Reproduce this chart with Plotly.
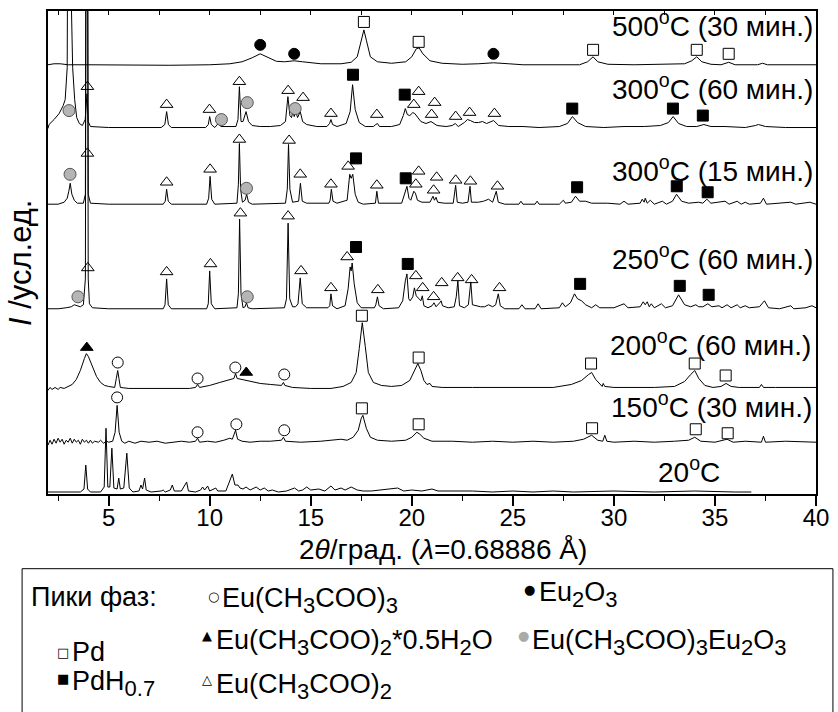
import plotly.graph_objects as go

# ---------------- data (2θ in degrees, intensity in arbitrary units above each pattern's baseline) -------------
P_500 = [(2.0,0),(2.3,1),(2.6,1),(3.0,0),(4.0,0),(6.0,-0.5),(8.0,-0.5),(10.0,0),(11.0,1),(11.6,3),(12.1,7),
         (12.5,11),(12.9,7),(13.3,3.5),(13.7,3),(14.18,4),(14.6,3),(15.5,1),(16.5,1),(17.0,2.5),(17.3,8),
         (17.5,26),(17.63,35),(17.76,24),(17.95,8),(18.3,3),(19.0,1.5),(19.7,3),(20.0,8),(20.22,16),(20.36,17),
         (20.55,11),(20.9,4),(21.5,1.5),(22.5,0.5),(23.3,1),(24.04,2),(24.8,1),(25.5,0),(28.3,0),(28.7,3),
         (28.97,8),(29.2,3),(29.7,0.5),(31.0,0),(33.5,1),(33.85,4),(34.1,8),(34.35,3),(34.8,0.5),(35.3,0),
         (35.68,2.5),(36.0,0),(37.1,0),(37.36,1.5),(37.6,0),(40.0,0)]

P_300_60 = [(2.0,-1),(2.05,3),(2.3,8),(2.55,14),(2.75,22),(2.85,28),(2.95,60),(3.0,120),(3.08,800),(3.16,120),
            (3.22,60),(3.32,28),(3.42,10),(3.55,4),(3.7,2),(3.84,8),(3.93,34),(3.99,6),(4.1,1),(5.0,0),(7.6,0),
            (7.78,3),(7.87,16),(7.96,3),(8.1,0),(9.8,0),(9.93,3),(10.0,11),(10.08,3),(10.25,0),(10.42,4),(10.55,1),
            (11.3,1),(11.4,8),(11.47,41),(11.55,6),(11.65,6),(11.8,16),(11.92,6),(12.1,2),(12.5,1),(13.0,1),
            (13.5,2),(13.75,6),(13.87,31),(13.97,12),(14.05,10),(14.12,17),(14.18,11),(14.26,16),(14.35,10),
            (14.48,16),(14.6,6),(14.8,3),(15.3,1),(15.8,1),(15.93,4),(16.0,8),(16.08,3),(16.3,1),(16.75,4),
            (16.95,16),(17.07,43),(17.2,18),(17.4,5),(17.7,1),(18.1,1),(18.22,3),(18.3,4),(18.4,1),(19.0,1),
            (19.4,3),(19.58,12),(19.68,19),(19.78,13),(19.9,12),(20.05,15),(20.15,14),(20.28,11),(20.45,6),
            (20.7,4),(20.95,6),(21.1,4),(21.25,2),(21.7,1),(22.0,2),(22.15,4),(22.3,1),(22.6,5),(22.75,8),
            (22.9,7),(23.1,5),(23.3,5),(23.5,6),(23.7,4),(24.05,7),(24.3,2),(24.8,1),(25.5,1),(26.3,0),(27.3,1),
            (27.7,4),(27.95,11),(28.2,5),(28.6,1),(29.5,0),(30.5,1),(31.5,1),(32.3,2),(32.7,5),(32.93,11),
            (33.2,4),(33.6,1),(34.1,1),(34.45,3),(34.8,1),(35.5,1),(36.5,0),(37.0,2),(37.15,3),(37.5,1),
            (38.5,0),(40.0,0)]

P_300_15 = [(2.0,0),(2.5,0),(2.8,2),(2.95,6),(3.03,13),(3.1,21),(3.18,10),(3.3,4),(3.45,1),(3.75,1),(3.85,10),
            (3.92,700),(3.99,10),(4.1,1),(5.0,0),(7.7,0),(7.8,3),(7.87,15),(7.95,3),(8.1,0),(9.85,0),(9.95,6),
            (10.02,28),(10.1,5),(10.25,0),(11.35,1),(11.42,20),(11.47,61),(11.53,15),(11.62,2),(11.75,4),
            (11.83,10),(11.92,2),(12.1,0),(13.75,1),(13.84,15),(13.9,60),(13.97,15),(14.1,2),(14.4,3),
            (14.49,21),(14.58,3),(14.8,1),(15.9,1),(15.96,4),(16.02,15),(16.1,3),(16.3,1),(16.8,4),(16.93,30),
            (17.0,26),(17.08,30),(17.2,10),(17.35,2),(17.6,0),(18.2,1),(18.27,13),(18.35,1),(19.5,1),
            (19.65,10),(19.76,18),(19.86,6),(19.95,4),(20.1,13),(20.18,11),(20.28,4),(20.5,2),(20.9,2),
            (21.05,8),(21.12,4),(21.2,7),(21.28,2),(21.6,1),(22.05,1),(22.17,19),(22.25,2),(22.5,1),(22.78,2),
            (22.88,18),(22.95,2),(23.3,2),(23.55,3),(23.8,5),(24.0,2),(24.18,13),(24.28,2),(24.6,0),(25.3,0),
            (25.4,3),(25.5,0),(26.1,0),(26.2,3),(26.3,0),(27.3,0),(27.5,4),(27.6,1),(27.9,2),(28.1,8),(28.3,3),
            (28.6,3),(28.9,1),(29.7,1),(30.3,0),(30.5,3),(30.7,0),(31.3,1),(31.4,5),(31.5,2),(31.55,6),
            (31.65,1),(31.8,4),(32.0,0),(32.4,3),(32.6,0),(32.9,3),(33.1,10),(33.35,3),(33.7,1),(34.2,2),
            (34.4,1),(34.6,5),(34.8,1),(35.5,3),(35.7,0),(36.1,3),(36.3,0),(36.5,2),(36.7,0),(37.25,1),
            (37.4,6),(37.55,0),(38.75,2),(39.0,0),(39.7,2),(40.0,0)]

P_250_60 = [(2.0,0),(2.5,0),(2.9,1),(3.15,2),(3.3,4),(3.45,3),(3.6,2),(3.75,4),(3.85,30),(3.92,800),(3.99,30),
            (4.05,5),(4.2,1),(5.0,0),(7.7,0),(7.79,4),(7.87,30),(7.95,4),(8.1,0),(9.85,0),(9.93,5),(10.0,38),
            (10.08,5),(10.25,0),(11.35,1),(11.42,15),(11.48,90),(11.55,15),(11.65,1),(11.75,2),(11.82,6),
            (11.9,1),(12.1,0),(13.7,1),(13.8,10),(13.88,86),(13.96,10),(14.1,2),(14.25,2),(14.37,5),(14.48,31),
            (14.58,5),(14.8,1),(15.85,1),(15.94,3),(16.0,15),(16.08,3),(16.3,0),(16.7,3),(16.85,20),(16.95,42),
            (17.0,38),(17.05,46),(17.15,25),(17.3,6),(17.5,1),(18.15,1),(18.22,4),(18.3,12),(18.38,3),(18.6,0),
            (19.35,1),(19.55,8),(19.68,28),(19.76,35),(19.85,10),(19.92,8),(20.05,12),(20.13,21),(20.22,13),
            (20.35,10),(20.45,8),(20.52,13),(20.6,3),(20.8,1),(21.0,3),(21.1,6),(21.2,2),(21.38,6),(21.45,8),
            (21.52,3),(21.8,1),(22.1,2),(22.2,12),(22.28,28),(22.36,3),(22.6,1),(22.8,4),(22.92,27),(23.0,4),
            (23.4,2),(23.6,2),(23.8,4),(24.0,2),(24.15,4),(24.28,15),(24.38,3),(24.6,0),(25.3,0),(25.45,4),
            (25.6,0),(26.1,0),(26.25,5),(26.4,0),(27.3,1),(27.45,6),(27.6,2),(27.85,6),(28.05,15),(28.2,10),
            (28.4,8),(28.6,4),(28.9,1),(29.1,4),(29.3,1),(29.8,1),(30.0,1),(30.5,5),(30.7,1),(31.3,2),(31.45,7),
            (31.55,4),(31.65,7),(31.75,2),(31.85,5),(32.0,1),(32.35,5),(32.55,1),(32.9,3),(33.2,14),(33.5,4),
            (33.8,2),(34.05,4),(34.2,2),(34.4,2),(34.65,5),(34.85,2),(35.2,3),(35.35,1),(35.6,4),(35.8,1),
            (36.1,4),(36.25,1),(36.5,3),(36.7,1),(37.2,2),(37.45,8),(37.65,1),(38.2,0),(38.75,3),(38.9,0),
            (39.5,1),(39.8,3),(40.0,1)]

P_200_60 = [(2.0,-2),(2.1,1),(2.2,-1),(2.35,1),(2.5,-1),(2.6,1),(2.8,0),(3.0,2),(3.2,4),(3.4,9),(3.6,18),
            (3.8,30),(3.9,35),(4.0,32),(4.2,22),(4.4,12),(4.6,6),(4.8,3),(5.0,2),(5.3,1),(5.38,10),(5.45,18),
            (5.51,10),(5.58,1),(6.0,0),(7.0,0),(8.0,0),(9.0,0),(9.3,1),(9.4,4),(9.5,1),(10.0,3),(10.5,6),
            (11.0,9),(11.2,10),(11.28,15),(11.36,10),(11.6,9),(12.0,7),(12.5,5),(13.0,4),(13.55,3),(13.65,6),
            (13.72,3),(14.1,1),(15.0,0),(16.0,0),(16.6,2),(17.0,6),(17.25,16),(17.4,40),(17.55,66),(17.7,42),
            (17.85,16),(18.1,6),(18.5,3),(19.0,2),(19.5,3),(19.9,8),(20.1,16),(20.3,25),(20.45,18),(20.6,8),
            (20.75,4),(20.9,5),(21.0,2),(21.5,1),(23.0,1),(25.0,1),(27.0,1),(27.9,4),(28.4,8),(28.75,14),
            (28.9,16),(29.1,9),(29.3,4),(29.42,2),(29.47,5),(29.55,2),(30.0,1),(32.0,1),(33.0,2),(33.5,7),
            (33.8,14),(34.0,18),(34.2,10),(34.5,3),(34.9,1),(35.3,2),(35.55,5),(35.8,2),(36.2,1),(37.2,1),
            (37.3,4),(37.4,1),(38.0,1),(40.0,1)]

P_150_30 = [(2.0,-3),(2.1,2),(2.2,-2),(2.3,3),(2.4,-1),(2.5,4),(2.6,0),(2.7,3),(2.8,-2),(2.9,2),(3.0,0),
            (3.1,4),(3.2,-1),(3.3,3),(3.4,0),(3.5,2),(3.6,-2),(3.7,3),(3.8,0),(3.9,2),(4.0,-1),(4.1,2),(4.2,-1),
            (4.3,1),(4.5,0),(4.6,2),(4.75,-1),(4.9,1),(5.0,0),(5.2,1),(5.32,10),(5.42,37),(5.52,10),(5.65,1),
            (5.8,-1),(6.0,1),(6.3,-1),(6.6,1),(7.0,0),(7.4,1),(7.8,-1),(8.2,0),(8.6,1),(9.0,0),(9.3,1),(9.4,4),
            (9.5,0),(9.9,1),(10.3,0),(10.7,2),(11.0,4),(11.12,3),(11.28,12),(11.38,3),(11.6,1),(12.0,0),
            (12.5,1),(13.0,1),(13.55,2),(13.65,5),(13.75,1),(14.5,0),(15.5,1),(16.5,3),(16.8,2),(17.1,5),
            (17.35,12),(17.5,24),(17.58,27),(17.75,14),(17.95,5),(18.3,2),(19.0,1),(19.7,2),(20.0,5),(20.25,10),
            (20.4,8),(20.6,4),(21.0,1),(22.0,1),(23.0,0),(24.0,1),(25.0,0),(26.0,1),(27.0,0),(28.0,1),(28.5,3),
            (28.9,7),(29.2,2),(29.45,1),(29.55,7),(29.65,1),(30.0,0),(31.0,1),(32.0,0),(33.0,1),(33.7,2),
            (34.0,5),(34.3,1),(35.0,0),(35.6,3),(35.9,0),(36.5,1),(37.3,0),(37.4,6),(37.5,0),(38.5,1),(40.0,0)]

P_20 = [(2.0,0),(3.6,0),(3.78,3),(3.87,27),(3.96,3),(4.1,0),(4.6,0),(4.78,5),(4.87,64),(4.96,5),(5.06,5),
        (5.16,44),(5.26,4),(5.42,3),(5.5,14),(5.58,3),(5.75,4),(5.9,39),(6.02,4),(6.2,0),(6.5,1),(6.6,7),
        (6.68,3),(6.78,14),(6.86,2),(7.1,0),(7.6,1),(7.7,2),(7.8,0),(8.05,2),(8.15,7),(8.25,1),(8.6,1),
        (8.86,10),(8.95,1),(9.3,0),(9.55,2),(9.65,5),(9.75,2),(9.9,6),(10.0,1),(10.3,4),(10.4,1),(10.8,1),
        (11.12,18),(11.25,7),(11.4,7),(11.5,4),(11.65,3),(11.8,5),(12.0,2),(12.3,5),(12.5,2),(12.7,4),
        (12.9,1),(13.1,2),(13.4,0),(13.8,1),(14.2,4),(14.4,1),(14.6,2),(14.8,5),(15.0,2),(15.4,3),(15.7,1),
        (16.0,6),(16.2,2),(16.5,4),(16.7,2),(17.0,5),(17.3,2),(17.6,1),(18.0,1),(18.5,2),(19.0,3),(19.3,4),
        (19.6,1),(20.0,2),(20.5,1),(21.0,3),(21.3,1),(22.0,1),(23.0,1),(24.0,0),(25.0,1),(26.0,0),(27.0,1),
        (28.0,0),(30.0,1),(32.0,0),(34.0,1),(36.0,0),(36.8,0)]

PATTERNS = [P_500, P_300_60, P_300_15, P_250_60, P_200_60, P_150_30, P_20]
OFFSETS = [431, 368, 291, 186, 106, 52, 2]
LABELS = ["500<sup>o</sup>C (30 мин.)", "300<sup>o</sup>C (60 мин.)", "300<sup>o</sup>C (15 мин.)",
          "250<sup>o</sup>C (60 мин.)", "200<sup>o</sup>C (60 мин.)", "150<sup>o</sup>C (30 мин.)",
          "20<sup>o</sup>C"]

# phase peak markers: (2θ, height on the stacked scale)
PD = [(17.63,474),(20.34,454),(28.97,446),(34.10,446),(35.68,442),
      (17.53,179),(20.34,137),(28.87,131),(34.0,131),(35.53,119),
      (17.53,86),(20.34,70),(28.92,66),(34.05,65),(35.63,61)]
PDH = [(17.09,421),(19.65,401),(27.94,387),(32.92,387),(34.4,380),
       (17.24,337),(19.7,317),(28.18,308),(33.11,309),(34.64,303),
       (17.24,248),(19.8,231),(28.33,211),(33.26,209),(34.69,200)]
EU2O3 = [(12.5,451),(14.18,442),(24.04,442)]
EU_AC2 = [(3.95,409),(7.87,391),(9.99,386),(11.47,414),(13.88,405),(14.62,398),(16.0,382),(18.27,381),
          (20.1,391),(20.34,404),(21.13,393),(20.98,381),(22.17,379),(22.86,383),(24.09,382),
          (3.95,342),(7.87,313),(10.02,326),(11.47,356),(13.93,355),(14.48,321),(16.0,311),(16.85,329),
          (18.27,310),(20.34,324),(20.2,311),(21.23,318),(21.08,305),(22.17,315),(22.9,314),(24.24,309),
          (3.97,227),(7.87,223),(10.04,231),(11.52,282),(13.88,279),(14.52,224),(16.0,207),(16.8,238),
          (18.32,205),(20.2,219),(20.54,207),(21.08,198),(21.48,212),(22.27,217),(22.96,215),(24.34,207)]
EU_AC3 = [(5.45,132),(9.4,116),(11.27,127),(13.69,120),(5.42,97),(9.4,62),(11.32,70),(13.69,64)]
EU_AC2_H2O = [(3.92,147),(11.81,122)]
EU_AC3_EU2O3 = [(3.04,385),(10.58,376),(11.86,393),(14.23,387),(3.09,321),(11.82,307),(3.48,198),(11.86,198)]

# ---------------- figure ----------------
L, R, T, B = 48, 19, 9, 218
W, H = 838, 712
PW, PH = W - L - R, H - T - B


def fx(px):
    return (px - L) / PW


def fy(py):
    return (H - B - py) / PH


def sub(s):
    return '<sub><span style="font-size:22px">' + s + '</span></sub>'


FONT = "Liberation Sans, Arial, sans-serif"
fig = go.Figure()

for pat, off in zip(PATTERNS, OFFSETS):
    fig.add_trace(go.Scatter(x=[p[0] for p in pat], y=[p[1] + off for p in pat], mode="lines",
                             line=dict(color="black", width=1), hoverinfo="skip", showlegend=False))


def add_markers(pts, symbol, color, size, line_color="black", line_width=1):
    fig.add_trace(go.Scatter(x=[p[0] for p in pts], y=[p[1] for p in pts], mode="markers",
                             marker=dict(symbol=symbol, color=color, size=size,
                                         line=dict(color=line_color, width=line_width)),
                             hoverinfo="skip", showlegend=False, cliponaxis=False))


add_markers(EU_AC2, "triangle-up-open", "black", 11)
add_markers(EU_AC2_H2O, "triangle-up", "black", 11)
add_markers(PD, "square-open", "black", 11)
add_markers(PDH, "square", "black", 11)
add_markers(EU2O3, "circle", "black", 11)
add_markers(EU_AC3, "circle-open", "black", 11)
add_markers(EU_AC3_EU2O3, "circle", "#b5b5b5", 12, "#555555", 1)

# invisible trace to carry the top axis (inside ticks)
fig.add_trace(go.Scatter(x=[2], y=[-50], xaxis="x2", mode="markers", marker=dict(opacity=0),
                         hoverinfo="skip", showlegend=False))

fig.update_layout(
    width=W, height=H, margin=dict(l=L, r=R, t=T, b=B),
    paper_bgcolor="white", plot_bgcolor="white",
    font=dict(family=FONT, color="black"),
    showlegend=False,
    xaxis=dict(range=[2, 40], showline=True, linecolor="black", linewidth=2, mirror=True,
               ticks="outside", ticklen=10, tickwidth=1.5, tickcolor="black", ticklabelstandoff=-9,
               tickvals=[5, 10, 15, 20, 25, 30, 35, 40], tickfont=dict(size=24, family=FONT),
               minor=dict(ticks="outside", ticklen=5, tickwidth=1, tickcolor="black", dtick=2.5, tick0=0),
               showgrid=False, zeroline=False),
    xaxis2=dict(range=[2, 40], overlaying="x", side="top", ticks="inside", ticklen=4, tickwidth=1,
                tickcolor="black", dtick=2.5, tick0=0, showticklabels=False, showline=False,
                showgrid=False, zeroline=False),
    yaxis=dict(range=[0, PH], showline=True, linecolor="black", linewidth=2, mirror=True,
               showticklabels=False, ticks="", showgrid=False, zeroline=False),
)

ann = []
LABEL_POS = [(818, 22), (818, 85), (818, 168), (818, 256), (816, 342), (817, 405), (725, 470)]
for text, (px, py) in zip(LABELS, LABEL_POS):
    ann.append(dict(text=text, x=fx(px), y=fy(py), xref="paper", yref="paper", xanchor="right",
                    yanchor="middle", showarrow=False, font=dict(size=28, family=FONT)))

ann.append(dict(text="2<i>θ</i>/град. (<i>λ</i>=0.68886 Å)", x=fx(445), y=fy(550), xref="paper",
                yref="paper", xanchor="center", yanchor="middle", showarrow=False,
                font=dict(size=28, family=FONT)))
ann.append(dict(text="<i>I</i> /усл.ед.", x=fx(21), y=fy(262), xref="paper", yref="paper",
                xanchor="center", yanchor="middle", textangle=-90, showarrow=False,
                font=dict(size=31, family=FONT)))

# legend box content
LEG_TEXT = [("Пики фаз:", 29, 597),
            ("Eu(CH" + sub("3") + "COO)" + sub("3"), 221, 601),
            ("Eu" + sub("2") + "O" + sub("3"), 539, 595),
            ("Pd", 70, 653),
            ("Eu(CH" + sub("3") + "COO)" + sub("2") + "*0.5H" + sub("2") + "O", 215, 643),
            ("Eu(CH" + sub("3") + "COO)" + sub("3") + "Eu" + sub("2") + "O" + sub("3"), 532, 643),
            ("PdH" + sub("0.7"), 70, 684),
            ("Eu(CH" + sub("3") + "COO)" + sub("2"), 215, 687)]
for text, px, py in LEG_TEXT:
    ann.append(dict(text=text, x=fx(px), y=fy(py), xref="paper", yref="paper", xanchor="left",
                    yanchor="middle", showarrow=False, font=dict(size=27, family=FONT)))

LEG_GLYPH = [("○", 214, 597, "black"), ("●", 531, 590, "black"), ("□", 63, 653, "black"),
             ("▲", 208, 636, "black"), ("●", 525, 636, "#aaaaaa"), ("■", 63, 679, "black"),
             ("△", 208, 680, "black")]
for g, px, py, col in LEG_GLYPH:
    ann.append(dict(text=g, x=fx(px), y=fy(py), xref="paper", yref="paper", xanchor="center",
                    yanchor="middle", showarrow=False, font=dict(size=13, family="DejaVu Sans", color=col)))

fig.update_layout(annotations=ann)
fig.add_shape(type="rect", xref="paper", yref="paper", x0=fx(22), x1=fx(836), y0=fy(720), y1=fy(569),
              line=dict(color="black", width=1), fillcolor="rgba(0,0,0,0)")

fig.write_html("out.html", config={"displayModeBar": False},
               post_script="document.body.style.margin='0px';document.body.style.padding='0px';")
